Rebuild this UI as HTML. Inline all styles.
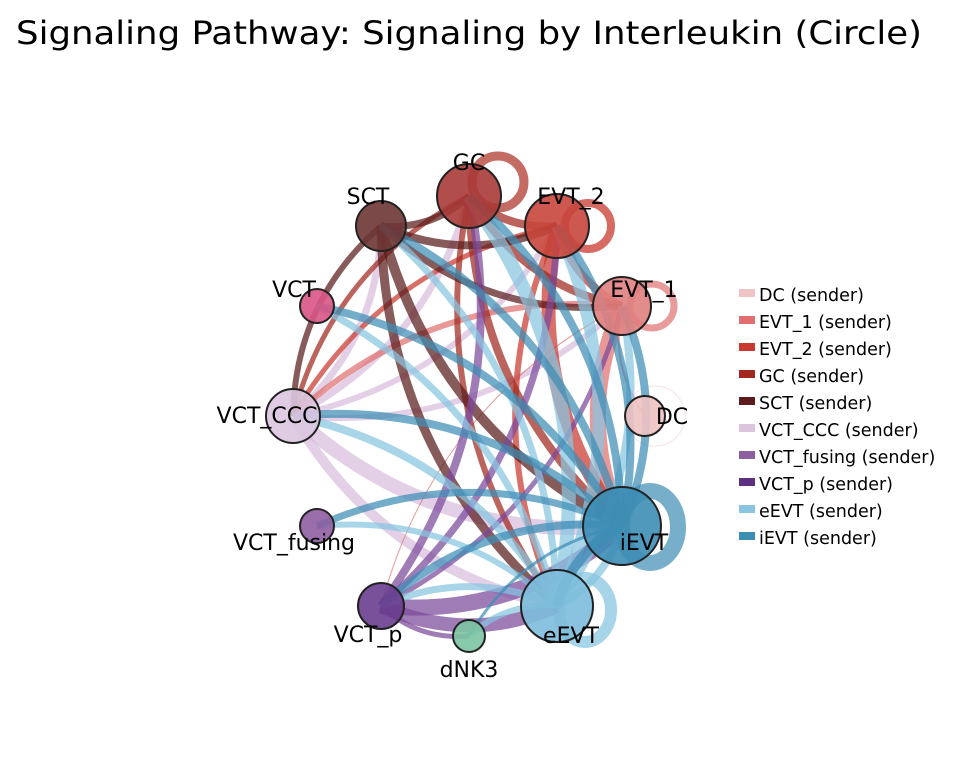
<!DOCTYPE html>
<html><head><meta charset="utf-8"><style>
body{margin:0;background:#fff;width:954px;height:763px;overflow:hidden;font-family:"DejaVu Sans",sans-serif}
svg{position:absolute;left:0;top:0}
</style></head><body>
<svg id="s" width="954" height="763" viewBox="0 0 954 763" xmlns="http://www.w3.org/2000/svg">
<text x="16" y="44" font-size="32" textLength="906" lengthAdjust="spacingAndGlyphs" font-family="DejaVu Sans, sans-serif">Signaling Pathway: Signaling by Interleukin (Circle)</text>
<g id="loops" fill="none">
<circle cx="498" cy="182" r="26" stroke="#b03a30" stroke-opacity="0.75" stroke-width="9"/>
<circle cx="588" cy="226" r="23" stroke="#c9392f" stroke-opacity="0.75" stroke-width="8"/>
<circle cx="652" cy="306" r="22" stroke="#e07070" stroke-opacity="0.7" stroke-width="7"/>
<ellipse cx="650" cy="527" rx="28" ry="36" stroke="#3d8db5" stroke-opacity="0.7" stroke-width="16"/>
<ellipse cx="585" cy="610" rx="26" ry="32" stroke="#88c5e0" stroke-opacity="0.75" stroke-width="12"/>
<circle cx="655" cy="416" r="30" stroke="#f0c6c6" stroke-opacity="0.5" stroke-width="1"/>
</g>
<g id="edges" fill="none" stroke-linecap="butt"></g>
<g id="nodes" stroke="#222" stroke-width="2"></g>
<g id="labels" font-size="22" font-family="DejaVu Sans, sans-serif"></g>
<g id="legend" font-size="17.5" font-family="DejaVu Sans, sans-serif"></g>
</svg>
<script>
var N={GC:[469,196,32,'#a83a36'],SCT:[381,226,25,'#6e3535'],EVT_2:[557,226,32,'#c8463c'],VCT:[317,306,17,'#d85585'],EVT_1:[622,306,29,'#e07f7f'],VCT_CCC:[293,416,27,'#dcc6e0'],DC:[645,416,20,'#f0c2c2'],VCT_fusing:[317,526,17,'#8e5ea2'],iEVT:[622,526,39,'#3d8db5'],VCT_p:[381,606,23,'#6a3d8f'],eEVT:[557,606,36,'#7dbcdc'],dNK3:[469,636,16,'#7cc4a3']};
var C={iEVT:'#3d8db5',eEVT:'#88c5e0',SCT:'#5a1c1c',GC:'#a0281e',EVT_2:'#c9392f',EVT_1:'#e07070',VCT_CCC:'#d8bedc',VCT_p:'#7b4a9b',DC:'#f0b0b0'};
var E=[['VCT_CCC','iEVT',14],['VCT_CCC','eEVT',10],['VCT_CCC','SCT',7],['VCT_CCC','GC',7],['VCT_CCC','EVT_2',6],['VCT_CCC','EVT_1',6],
['EVT_1','iEVT',16],['EVT_1','VCT_CCC',6],['EVT_1','DC',2],['EVT_1','VCT_p',1],
['EVT_2','iEVT',14],['EVT_2','VCT_CCC',5],['EVT_2','eEVT',6],['EVT_2','EVT_1',8],
['GC','EVT_2',8],['GC','EVT_1',8],['GC','iEVT',8],['GC','eEVT',6],['GC','VCT_CCC',5],
['SCT','GC',7],['SCT','EVT_2',8],['SCT','EVT_1',7],['SCT','iEVT',10],['SCT','eEVT',9],['SCT','VCT_CCC',6],
['VCT_p','GC',8],['VCT_p','EVT_2',7],['VCT_p','EVT_1',5],['VCT_p','iEVT',16],['VCT_p','eEVT',14],['VCT_p','dNK3',5],
['eEVT','GC',14],['eEVT','EVT_2',12],['eEVT','EVT_1',8],['eEVT','VCT',7],['eEVT','VCT_CCC',8],['eEVT','SCT',7],['eEVT','iEVT',8],['eEVT','VCT_p',7],['eEVT','dNK3',6],['eEVT','VCT_fusing',6],
['iEVT','VCT',8],['iEVT','VCT_CCC',8],['iEVT','VCT_fusing',7],['iEVT','SCT',8],['iEVT','GC',8],['iEVT','EVT_2',8],['iEVT','EVT_1',8],['iEVT','eEVT',10],['iEVT','VCT_p',8],['iEVT','dNK3',3]];
var ns='http://www.w3.org/2000/svg',g=document.getElementById('edges');
E.forEach(function(e){var a=N[e[0]],b=N[e[1]];var mx=(a[0]+b[0])/2,my=(a[1]+b[1])/2,dx=b[0]-a[0],dy=b[1]-a[1];var k=0.22;var cx=mx-dy*k,cy=my+dx*k;
var p=document.createElementNS(ns,'path');p.setAttribute('d','M'+a[0]+' '+a[1]+' Q'+cx+' '+cy+' '+b[0]+' '+b[1]);p.setAttribute('stroke',C[e[0]]);p.setAttribute('stroke-width',e[2]);p.setAttribute('stroke-opacity',0.72);g.appendChild(p);});
var gn=document.getElementById('nodes');for(var k in N){var n=N[k];var c=document.createElementNS(ns,'circle');c.setAttribute('cx',n[0]);c.setAttribute('cy',n[1]);c.setAttribute('r',n[2]);c.setAttribute('fill',n[3]);c.setAttribute('fill-opacity',0.9);gn.appendChild(c);}
var L=[['GC',469,170],['SCT',368,204],['EVT_2',571,204],['VCT',294,297],['EVT_1',644,297],['VCT_CCC',267,423],['DC',672,424],['VCT_fusing',294,550],['iEVT',644,550],['VCT_p',368,642],['eEVT',571,643],['dNK3',469,677]];
var gl=document.getElementById('labels');L.forEach(function(l){var t=document.createElementNS(ns,'text');t.setAttribute('x',l[1]);t.setAttribute('y',l[2]);t.setAttribute('text-anchor','middle');t.textContent=l[0];gl.appendChild(t);});
var G=[['DC','#eec4c4'],['EVT_1','#e07070'],['EVT_2','#c9392f'],['GC','#a0281e'],['SCT','#5a1c1c'],['VCT_CCC','#dcc3de'],['VCT_fusing','#8e5ea2'],['VCT_p','#5e2f82'],['eEVT','#88c5e0'],['iEVT','#3d8db5']];
var gg=document.getElementById('legend');G.forEach(function(l,i){var y=295+i*27;var r=document.createElementNS(ns,'rect');r.setAttribute('x',739);r.setAttribute('y',y-6);r.setAttribute('width',16);r.setAttribute('height',8);r.setAttribute('fill',l[1]);gg.appendChild(r);var t=document.createElementNS(ns,'text');t.setAttribute('x',759);t.setAttribute('y',y+6);t.textContent=l[0]+' (sender)';gg.appendChild(t);});
</script>
</body></html>
